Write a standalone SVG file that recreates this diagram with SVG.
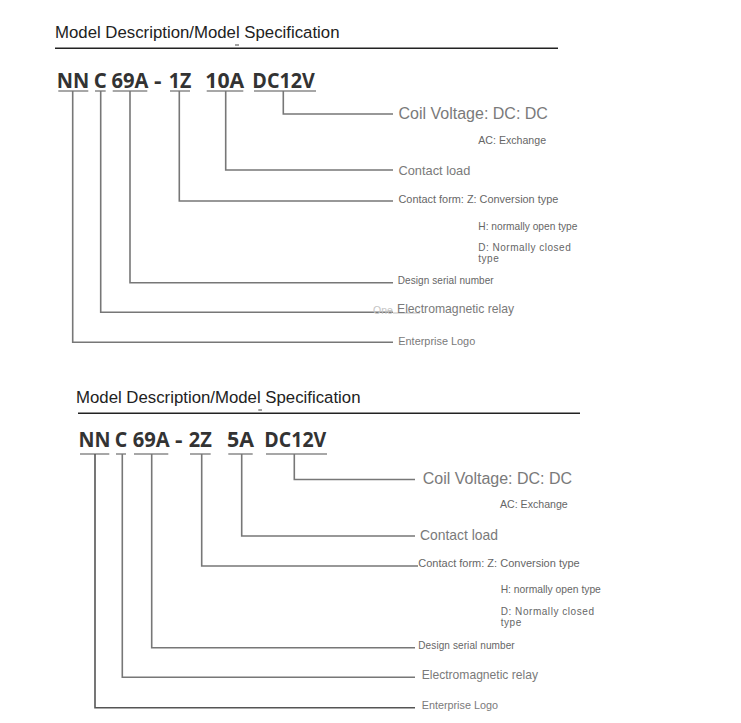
<svg xmlns="http://www.w3.org/2000/svg" width="741" height="723" viewBox="0 0 741 723">
<style>
.title{font-family:"Liberation Sans",Arial,sans-serif;font-size:16.8px;fill:#222}
.code{font-family:"Open Sans","Noto Sans",sans-serif;font-weight:bold;font-size:21.5px;fill:#333}
.lbl{font-family:"Liberation Sans",Arial,sans-serif;fill:#7a7a7a}
.sm{font-family:"Liberation Sans",Arial,sans-serif;fill:#666}
.rule{stroke:#222;stroke-width:1.6;fill:none}
.ul{stroke:#8a8a8a;stroke-width:1.5;fill:none}
.con{stroke:#777;stroke-width:1.6;fill:none}
</style>
<rect width="741" height="723" fill="#fff"/>
<!-- Panel 1 -->
<g id="panel1-title">
<text class="title" x="55" y="38.3">Model Description/Model Specification</text>
<line class="rule" x1="55" y1="48.3" x2="558" y2="48.3"/>
<line x1="235" y1="45" x2="239" y2="45" stroke="#444" stroke-width="1"/>
</g>
<g id="panel1-code">
<text class="code" x="56.8" y="87.5" textLength="32.5" lengthAdjust="spacingAndGlyphs">NN</text>
<text class="code" x="93.8" y="87.5" textLength="13" lengthAdjust="spacingAndGlyphs">C</text>
<text class="code" x="111.5" y="87.5" textLength="37" lengthAdjust="spacingAndGlyphs">69A</text>
<text class="code" x="154" y="87.5" textLength="7.5" lengthAdjust="spacingAndGlyphs">-</text>
<text class="code" x="168.8" y="87.5" textLength="22.5" lengthAdjust="spacingAndGlyphs">1Z</text>
<text class="code" x="205.3" y="87.5" textLength="39" lengthAdjust="spacingAndGlyphs">10A</text>
<text class="code" x="252.3" y="87.5" textLength="62.5" lengthAdjust="spacingAndGlyphs">DC12V</text>
<path class="ul" d="M58.3,91H88.3M95,91H105.7M112.7,91H147.3M170,91H190M206.7,91H243.3M254,91H316"/>
</g>
<g id="panel1-connectors">
<path class="con" d="M283.3,91V114H393"/>
<path class="con" d="M225.7,91V170H393"/>
<path class="con" d="M179.3,91V201H393"/>
<path class="con" d="M130,91V282.7H393"/>
<path class="con" d="M100.7,91V312.3H393"/>
<path class="con" d="M72.7,91V342.3H393"/>
<line x1="393" y1="313" x2="420" y2="313" stroke="#bbb" stroke-width="1"/>
</g>
<g id="p1-coil"><text class="lbl" x="398.5" y="119" font-size="16">Coil Voltage: DC: DC</text>
<text class="sm" x="478.3" y="144" font-size="10.6">AC: Exchange</text></g>
<g id="p1-load"><text class="lbl" x="398.5" y="175" font-size="12.8">Contact load</text></g>
<g id="p1-form"><text class="sm" x="398.5" y="202.5" font-size="10.9">Contact form: Z: Conversion type</text>
<text class="sm" x="478.3" y="230" font-size="10.2">H: normally open type</text>
<text class="sm" x="478.3" y="250.5" font-size="10" letter-spacing="0.5">D: Normally closed</text>
<text class="sm" x="478.3" y="261.5" font-size="10" letter-spacing="0.5">type</text></g>
<g id="p1-serial"><text class="sm" x="397.7" y="284" font-size="10" letter-spacing="0.08">Design serial number</text></g>
<g id="p1-relay"><text x="373" y="314" font-family="Liberation Sans,Arial,sans-serif" font-size="10.5" fill="#c4c4c4">One</text>
<text class="lbl" x="397" y="313" font-size="12.2">Electromagnetic relay</text></g>
<g id="p1-logo"><text class="lbl" x="398.3" y="345" font-size="10.9">Enterprise Logo</text></g>

<!-- Panel 2 -->
<g id="panel2-title">
<text class="title" x="76" y="403.3">Model Description/Model Specification</text>
<line class="rule" x1="78" y1="413.3" x2="580" y2="413.3"/>
<line x1="258.3" y1="410" x2="262" y2="410" stroke="#444" stroke-width="1"/>
</g>
<g id="panel2-code">
<text class="code" x="78.5" y="447" textLength="32" lengthAdjust="spacingAndGlyphs">NN</text>
<text class="code" x="114.8" y="447" textLength="12.5" lengthAdjust="spacingAndGlyphs">C</text>
<text class="code" x="132.8" y="447" textLength="37" lengthAdjust="spacingAndGlyphs">69A</text>
<text class="code" x="175" y="447" textLength="7.5" lengthAdjust="spacingAndGlyphs">-</text>
<text class="code" x="188.8" y="447" textLength="23" lengthAdjust="spacingAndGlyphs">2Z</text>
<text class="code" x="227" y="447" textLength="27" lengthAdjust="spacingAndGlyphs">5A</text>
<text class="code" x="264.3" y="447" textLength="62" lengthAdjust="spacingAndGlyphs">DC12V</text>
<path class="ul" d="M80,454H109.3M116,454H126M134,454H168.3M190,454H210.7M228.3,454H252.7M266,454H327"/>
</g>
<g id="panel2-connectors">
<path class="con" d="M294.3,454V479.5H415"/>
<path class="con" d="M241.7,454V536H415"/>
<path class="con" d="M201.7,454V566H418"/>
<path class="con" d="M151.7,454V647.7H415"/>
<path class="con" d="M122.3,454V677.3H415"/>
<path d="M95,454V707.7H415" fill="none" stroke="#555" stroke-width="1.6"/>
</g>
<g id="p2-coil"><text class="lbl" x="422.7" y="484" font-size="16">Coil Voltage: DC: DC</text>
<text class="sm" x="500" y="508.3" font-size="10.6">AC: Exchange</text></g>
<g id="p2-load"><text class="lbl" x="420" y="540" font-size="13.9">Contact load</text></g>
<g id="p2-form"><text class="sm" x="418.3" y="567.3" font-size="11">Contact form: Z: Conversion type</text>
<text class="sm" x="500.7" y="593.3" font-size="10.3">H: normally open type</text>
<text class="sm" x="500.7" y="614.5" font-size="10" letter-spacing="0.55">D: Normally closed</text>
<text class="sm" x="500.7" y="625.5" font-size="10" letter-spacing="0.55">type</text></g>
<g id="p2-serial"><text class="sm" x="418.3" y="649" font-size="10" letter-spacing="0.1">Design serial number</text></g>
<g id="p2-relay"><text class="lbl" x="421.7" y="679.3" font-size="12.1">Electromagnetic relay</text></g>
<g id="p2-logo"><text class="lbl" x="421.7" y="709.3" font-size="10.8">Enterprise Logo</text></g>
</svg>
